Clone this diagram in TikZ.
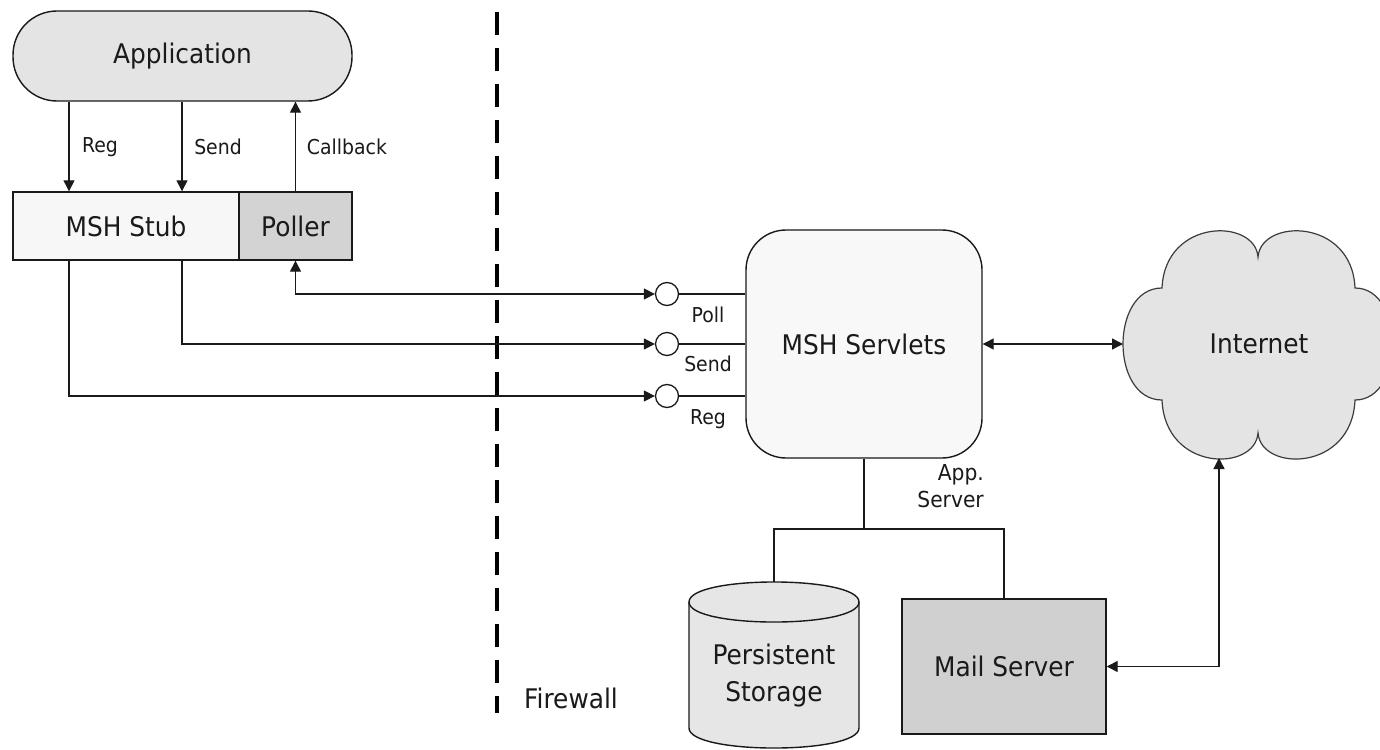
\documentclass[tikz,border=0pt]{standalone}
\usepackage{fontspec}
\setmainfont{DejaVu Sans}[FakeStretch=0.92]
\usetikzlibrary{arrows.meta,calc}
\definecolor{ink}{HTML}{1A1A1A}
\definecolor{appfill}{HTML}{E4E4E4}
\definecolor{stubfill}{HTML}{F7F7F7}
\definecolor{pollfill}{HTML}{D3D3D3}
\definecolor{servfill}{HTML}{F8F8F8}
\definecolor{cloudfill}{HTML}{E4E4E4}
\definecolor{cylfill}{HTML}{E6E6E6}
\definecolor{mailfill}{HTML}{D0D0D0}
\begin{document}
\begin{tikzpicture}[x=1pt,y=-1pt,
  box/.style={draw=ink, line width=1.4pt, inner sep=0pt, font=\fontsize{27}{32}\selectfont, text=ink},
  lbl/.style={font=\fontsize{20.5}{26}\selectfont, text=ink, inner sep=0pt},
  conn/.style={draw=ink, line width=1.3pt},
  arr/.style={conn, -{Triangle[length=11pt,width=11pt]}},
  dbl/.style={conn, {Triangle[length=11pt,width=11pt]}-{Triangle[length=11pt,width=11pt]}},
  port/.style={circle, draw=ink, line width=1.3pt, fill=white, minimum size=23pt, inner sep=0pt},
  fw/.style={draw=black, line width=4.5pt, dash pattern=on 23pt off 13pt}
]
\useasboundingbox (0,0) rectangle (1380,749);
\fill[white] (0,0) rectangle (1380,749);

% firewall
\coordinate (fwtop) at (497,12);
\coordinate (fwbot) at (497,713);
\draw[fw] (fwtop) -- (fwbot);
\node[box, draw=none] (fwl) at (571,698) {Firewall};

% nodes
\node[box, rounded corners=44pt, fill=appfill, minimum width=339pt, minimum height=90pt] (app) at (182.5,56) {Application};
\node[box, fill=stubfill, minimum width=226pt, minimum height=68pt] (stub) at (126,226) {MSH Stub};
\node[box, fill=pollfill, minimum width=113pt, minimum height=68pt] (poller) at (295.5,226) {Poller};
\node[box, rounded corners=40pt, fill=servfill, minimum width=236pt, minimum height=228pt] (serv) at (864,344) {MSH Servlets};
\node[port] (cp) at (667,294) {};
\node[port] (cs) at (667,344) {};
\node[port] (cr) at (667,396) {};
\node[box, fill=mailfill, minimum width=204pt, minimum height=135pt] (mail) at (1004,666.5) {Mail Server};

% cylinder
\path[draw=ink, line width=1.4pt, fill=cylfill] (689,602) -- (689,728) .. controls (689,754.7) and (859,754.7) .. (859,728) -- (859,602) .. controls (859,575.3) and (689,575.3) .. (689,602) -- cycle;
\draw[ink, line width=1.4pt] (689,602) .. controls (689,628.7) and (859,628.7) .. (859,602);
\node[box, draw=none, align=center, font=\fontsize{27}{37}\selectfont] (cyl) at (774,676) {Persistent\\Storage};
\coordinate (cyltop) at (774,582);

% cloud
\begin{scope}
\clip (0,0) rectangle (1380,749);
\path[draw=ink!85, line width=1.2pt, fill=cloudfill] (1162,400) .. controls (1110,400) and (1110,288) .. (1162,288) .. controls (1165,218) and (1255,218) .. (1258,257) .. controls (1261,218) and (1352,218) .. (1355,288) .. controls (1405,288) and (1405,400) .. (1355,400) .. controls (1352,472) and (1261,472) .. (1258,433) .. controls (1255,472) and (1165,472) .. (1162,400) -- cycle;
\end{scope}
\node[box, draw=none] (inet) at (1259,344) {Internet};
\coordinate (cloudL) at (1123,344);
\coordinate (cloudB) at (1219,458);

% helper coordinates
\coordinate (regx) at (69,0);
\coordinate (sendx) at (182,0);
\coordinate (bus) at (0,529);

% connectors
\draw[arr] (app.south -| regx) -- (stub.north -| regx);
\draw[arr] (app.south -| sendx) -- (stub.north -| sendx);
\draw[arr] (poller.north) -- (poller.north |- app.south);
\draw[arr] (stub.south -| regx) |- (cr.west);
\draw[arr] (stub.south -| sendx) |- (cs.west);
\draw[dbl] (poller.south) |- (cp.west);
\draw[conn] (cp.east) -- (cp.east -| serv.west);
\draw[conn] (cs.east) -- (cs.east -| serv.west);
\draw[conn] (cr.east) -- (cr.east -| serv.west);
\draw[dbl] (serv.east) -- (cloudL);
\draw[conn] (serv.south) -- (serv.south |- bus);
\draw[conn] (cyltop) -- (cyltop |- bus) -- (mail.north |- bus) -- (mail.north);
\draw[dbl] (mail.east) -| (cloudB);

% labels
\node[lbl] (lreg) at (100,147) {Reg};
\node[lbl] (lsend) at (218,147) {Send};
\node[lbl] (lcb) at (347,147) {Callback};
\node[lbl] (lpoll) at (708,315) {Poll};
\node[lbl] (lsend2) at (708,364) {Send};
\node[lbl] (lreg2) at (708,419) {Reg};
\node[lbl, font=\fontsize{22}{27}\selectfont, align=right, anchor=east] (lapp) at (984,486) {App.\\Server};
\end{tikzpicture}
\end{document}
